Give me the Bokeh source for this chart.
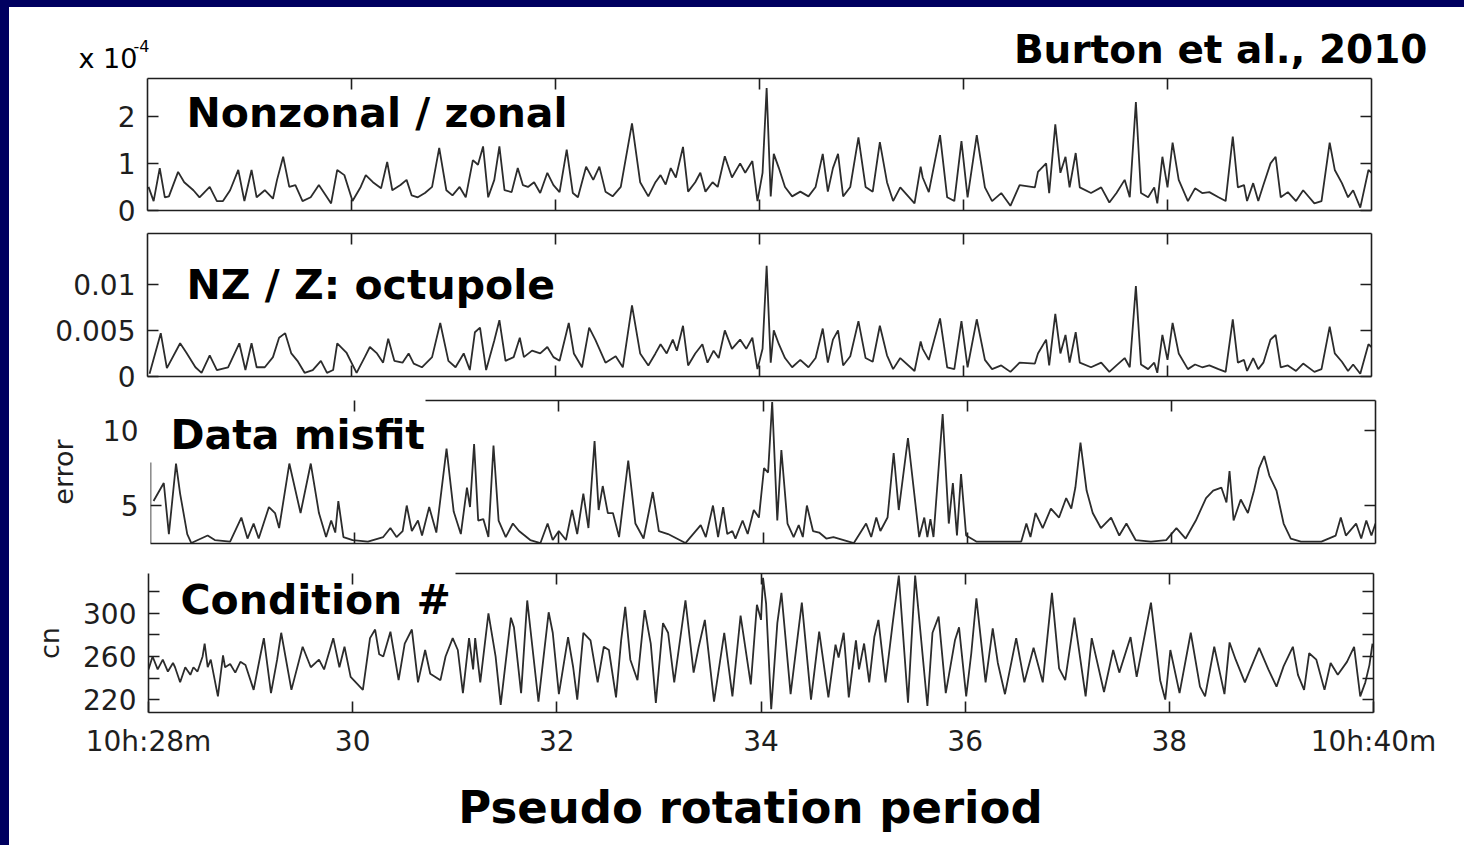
import math
from bokeh.plotting import figure
from bokeh.models import Range1d, LinearAxis, FixedTicker, Label, Div
from bokeh.layouts import row, column
from bokeh.embed import file_html
from bokeh.resources import INLINE

# ---------------- data ----------------
x_ticks_inner = [30, 32, 34, 36, 38]
x_ticks_bottom = [28, 30, 32, 34, 36, 38, 40]
x_tick_labels = {28: "10h:28m", 30: "30", 32: "32", 34: "34", 36: "36", 38: "38", 40: "10h:40m"}

# Panel 1: nonzonal / zonal power ratio (units of 1e-4), time in minutes after 10h
nz_t = [28.01, 28.06, 28.12, 28.17, 28.21, 28.30, 28.36, 28.45, 28.51, 28.61,
        28.68, 28.74, 28.81, 28.89, 28.95, 29.02, 29.07, 29.15, 29.23, 29.27,
        29.33, 29.39, 29.45, 29.52, 29.60, 29.68, 29.76, 29.80, 29.86, 29.93,
        30.01, 30.09, 30.14, 30.21, 30.29, 30.35, 30.40, 30.48, 30.54, 30.59,
        30.65, 30.72, 30.79, 30.86, 30.93, 30.99, 31.06, 31.12, 31.19, 31.24,
        31.29, 31.34, 31.40, 31.45, 31.50, 31.57, 31.63, 31.68, 31.73, 31.79,
        31.85, 31.92, 31.98, 32.04, 32.11, 32.17, 32.22, 32.30, 32.37, 32.43,
        32.49, 32.56, 32.64, 32.75, 32.83, 32.91, 32.98, 33.03, 33.08, 33.13,
        33.18, 33.25, 33.30, 33.37, 33.42, 33.47, 33.54, 33.59, 33.66, 33.73,
        33.81, 33.86, 33.93, 33.98, 34.03, 34.07, 34.11, 34.14, 34.19, 34.25,
        34.32, 34.40, 34.48, 34.55, 34.62, 34.67, 34.72, 34.77, 34.82, 34.89,
        34.97, 35.04, 35.11, 35.18, 35.25, 35.31, 35.38, 35.52, 35.58, 35.60,
        35.66, 35.77, 35.84, 35.91, 35.98, 36.04, 36.13, 36.21, 36.28, 36.37,
        36.46, 36.55, 36.70, 36.73, 36.81, 36.84, 36.90, 36.95, 37.00, 37.04,
        37.10, 37.14, 37.25, 37.35, 37.43, 37.50, 37.58, 37.63, 37.69, 37.74,
        37.81, 37.87, 37.90, 37.95, 38.00, 38.05, 38.11, 38.20, 38.27, 38.34,
        38.41, 38.50, 38.57, 38.64, 38.69, 38.75, 38.78, 38.84, 38.89, 38.94,
        39.01, 39.06, 39.11, 39.18, 39.26, 39.33, 39.44, 39.51, 39.59, 39.64,
        39.71, 39.77, 39.82, 39.89, 39.97, 40.00]
nz_v = [0.5, 0.2, 0.9, 0.28, 0.3, 0.82, 0.6, 0.43, 0.28, 0.5,
        0.2, 0.2, 0.43, 0.86, 0.2, 0.86, 0.28, 0.43, 0.25, 0.65,
        1.14, 0.5, 0.54, 0.2, 0.28, 0.54, 0.28, 0.15, 0.86, 0.75,
        0.2, 0.5, 0.75, 0.6, 0.47, 1.03, 0.43, 0.54, 0.65, 0.32,
        0.28, 0.37, 0.5, 1.33, 0.43, 0.32, 0.5, 0.28, 1.07, 0.97,
        1.36, 0.28, 0.65, 1.36, 0.43, 0.39, 0.9, 0.54, 0.5, 0.6,
        0.37, 0.8, 0.54, 0.39, 1.29, 0.37, 0.28, 0.93, 0.65, 0.93,
        0.4, 0.3, 0.5, 1.85, 0.6, 0.3, 0.6, 0.75, 0.55, 0.9,
        0.7, 1.35, 0.4, 0.6, 0.8, 0.4, 0.6, 0.5, 1.15, 0.7,
        1.0, 0.8, 1.05, 0.2, 0.8, 2.6, 0.3, 1.2, 0.9, 0.5,
        0.3, 0.4, 0.3, 0.5, 1.2, 0.4, 0.9, 1.2, 0.3, 0.5,
        1.55, 0.5, 0.4, 1.45, 0.6, 0.2, 0.49, 0.15, 0.93, 0.7,
        0.39, 1.6, 0.28, 0.2, 1.47, 0.28, 1.6, 0.49, 0.2, 0.37,
        0.1, 0.54, 0.49, 0.82, 1.0, 0.37, 1.83, 0.8, 1.14, 0.49,
        1.22, 0.49, 0.37, 0.49, 0.17, 0.37, 0.65, 0.28, 2.3, 0.37,
        0.28, 0.49, 0.15, 1.14, 0.49, 1.44, 0.65, 0.2, 0.47, 0.37,
        0.39, 0.28, 0.2, 1.57, 0.49, 0.54, 0.2, 0.58, 0.2, 0.54,
        1.0, 1.14, 0.28, 0.39, 0.2, 0.43, 0.15, 0.2, 1.44, 0.86,
        0.58, 0.28, 0.43, 0.06, 0.86, 0.8]

# Panel 2: NZ / Z octupole
oct_t = [28.02, 28.13, 28.19, 28.32, 28.38, 28.47, 28.53, 28.61, 28.68, 28.79,
         28.90, 28.96, 29.02, 29.07, 29.15, 29.23, 29.29, 29.35, 29.41, 29.47,
         29.54, 29.62, 29.70, 29.76, 29.82, 29.86, 29.95, 30.05, 30.13, 30.18,
         30.25, 30.31, 30.36, 30.42, 30.50, 30.56, 30.61, 30.69, 30.79, 30.87,
         30.95, 31.02, 31.10, 31.16, 31.21, 31.26, 31.32, 31.40, 31.45, 31.51,
         31.59, 31.65, 31.69, 31.77, 31.85, 31.92, 31.98, 32.04, 32.13, 32.18,
         32.26, 32.33, 32.39, 32.49, 32.59, 32.66, 32.75, 32.83, 32.91, 32.98,
         33.03, 33.09, 33.15, 33.19, 33.25, 33.30, 33.37, 33.44, 33.49, 33.55,
         33.60, 33.66, 33.73, 33.81, 33.87, 33.93, 33.98, 34.03, 34.07, 34.11,
         34.14, 34.19, 34.25, 34.32, 34.40, 34.48, 34.55, 34.62, 34.67, 34.72,
         34.77, 34.82, 34.89, 34.97, 35.04, 35.11, 35.18, 35.25, 35.31, 35.38,
         35.52, 35.58, 35.60, 35.66, 35.77, 35.84, 35.91, 35.98, 36.04, 36.13,
         36.21, 36.28, 36.37, 36.46, 36.55, 36.70, 36.73, 36.81, 36.84, 36.90,
         36.95, 37.00, 37.04, 37.10, 37.14, 37.25, 37.35, 37.43, 37.50, 37.58,
         37.63, 37.69, 37.74, 37.81, 37.87, 37.90, 37.95, 38.00, 38.05, 38.11,
         38.20, 38.27, 38.34, 38.41, 38.50, 38.57, 38.64, 38.69, 38.75, 38.78,
         38.84, 38.89, 38.94, 39.01, 39.06, 39.11, 39.18, 39.26, 39.33, 39.44,
         39.51, 39.59, 39.64, 39.71, 39.77, 39.82, 39.89, 39.97, 40.00]
oct_v = [0.0003, 0.0047, 0.0009, 0.0036, 0.0026, 0.0010, 0.0004, 0.0023, 0.0007, 0.0010,
         0.0036, 0.0007, 0.0036, 0.0010, 0.0010, 0.0021, 0.0042, 0.0047, 0.0025, 0.0017,
         0.0004, 0.0007, 0.0017, 0.0004, 0.0007, 0.0036, 0.0026, 0.0004, 0.0021, 0.0032,
         0.0025, 0.0015, 0.0041, 0.0017, 0.0015, 0.0025, 0.0014, 0.0010, 0.0021, 0.0058,
         0.0017, 0.0010, 0.0025, 0.0007, 0.0048, 0.0053, 0.0007, 0.0039, 0.0061, 0.0017,
         0.0021, 0.0042, 0.0021, 0.0028, 0.0025, 0.0032, 0.0021, 0.0017, 0.0058, 0.0025,
         0.0010, 0.0053, 0.0040, 0.0015, 0.0022, 0.0010, 0.0077, 0.0025, 0.0012, 0.0025,
         0.0035, 0.0025, 0.0040, 0.0028, 0.0055, 0.0012, 0.0025, 0.0035, 0.0015, 0.0028,
         0.0020, 0.0050, 0.0030, 0.0040, 0.0030, 0.0042, 0.0008, 0.0030, 0.0120, 0.0015,
         0.0050, 0.0035, 0.0020, 0.0010, 0.0018, 0.0010, 0.0020, 0.0052, 0.0015, 0.0040,
         0.0050, 0.0012, 0.0022, 0.0060, 0.0020, 0.0016, 0.0055, 0.0023, 0.0008, 0.0020,
         0.0006, 0.0038, 0.0030, 0.0018, 0.0063, 0.0010, 0.0008, 0.0060, 0.0010, 0.0062,
         0.0018, 0.0008, 0.0012, 0.0005, 0.0015, 0.0014, 0.0025, 0.0040, 0.0012, 0.0068,
         0.0025, 0.0045, 0.0015, 0.0048, 0.0015, 0.0010, 0.0015, 0.0005, 0.0012, 0.0020,
         0.0010, 0.0098, 0.0013, 0.0008, 0.0015, 0.0004, 0.0045, 0.0018, 0.0058, 0.0025,
         0.0008, 0.0013, 0.0010, 0.0012, 0.0008, 0.0005, 0.0062, 0.0015, 0.0018, 0.0006,
         0.0020, 0.0008, 0.0015, 0.0040, 0.0045, 0.0010, 0.0012, 0.0006, 0.0014, 0.0005,
         0.0008, 0.0054, 0.0025, 0.0016, 0.0006, 0.0013, 0.0003, 0.0035, 0.0032]

# Panel 3: data misfit (error)
err_t = [28.03, 28.13, 28.18, 28.25, 28.29, 28.36, 28.40, 28.56, 28.63, 28.78,
         28.89, 28.95, 29.01, 29.06, 29.16, 29.22, 29.26, 29.36, 29.47, 29.57,
         29.65, 29.72, 29.77, 29.81, 29.84, 29.89, 29.98, 30.13, 30.28, 30.35,
         30.41, 30.47, 30.51, 30.56, 30.62, 30.66, 30.73, 30.80, 30.90, 30.97,
         31.04, 31.10, 31.13, 31.17, 31.21, 31.26, 31.31, 31.36, 31.41, 31.48,
         31.55, 31.61, 31.72, 31.82, 31.89, 31.94, 32.00, 32.07, 32.13, 32.18,
         32.24, 32.29, 32.35, 32.39, 32.43, 32.48, 32.53, 32.59, 32.68, 32.75,
         32.83, 32.92, 32.98, 33.07, 33.24, 33.39, 33.44, 33.51, 33.56, 33.61,
         33.65, 33.70, 33.73, 33.80, 33.85, 33.91, 33.96, 34.01, 34.05, 34.09,
         34.14, 34.18, 34.24, 34.30, 34.35, 34.39, 34.43, 34.49, 34.55, 34.62,
         34.69, 34.89, 35.01, 35.06, 35.11, 35.15, 35.22, 35.28, 35.33, 35.42,
         35.53, 35.58, 35.61, 35.64, 35.67, 35.76, 35.82, 35.86, 35.90, 35.94,
         35.99, 36.09, 36.53, 36.58, 36.62, 36.67, 36.74, 36.82, 36.90, 36.97,
         37.02, 37.06, 37.11, 37.17, 37.23, 37.31, 37.41, 37.49, 37.56, 37.65,
         37.80, 37.95, 38.05, 38.14, 38.24, 38.34, 38.41, 38.49, 38.54, 38.57,
         38.61, 38.68, 38.75, 38.81, 38.86, 38.91, 38.96, 39.03, 39.10, 39.17,
         39.27, 39.47, 39.61, 39.66, 39.71, 39.81, 39.86, 39.91, 39.96, 40.00]
err_v = [5.3, 6.5, 3.1, 7.8, 5.8, 3.1, 2.5, 3.0, 2.7, 2.6,
         4.2, 2.8, 3.8, 2.8, 4.9, 4.5, 3.5, 7.8, 4.5, 7.8,
         4.5, 2.9, 4.0, 3.2, 5.3, 2.9, 2.7, 2.6, 2.9, 3.5,
         2.9, 3.3, 5.0, 3.3, 4.0, 3.0, 4.9, 3.2, 8.8, 4.6,
         3.1, 6.2, 4.9, 9.1, 4.0, 4.1, 2.9, 9.0, 4.0, 2.9,
         3.8, 3.3, 2.7, 2.5, 3.8, 2.7, 3.3, 2.7, 4.7, 3.1,
         5.8, 3.5, 9.3, 4.7, 6.3, 4.5, 4.5, 2.9, 8.0, 3.8,
         2.8, 5.9, 3.3, 3.1, 2.5, 3.7, 2.9, 5.0, 2.9, 4.9,
         3.1, 3.3, 2.8, 4.0, 3.1, 4.7, 4.2, 7.5, 7.2, 11.9,
         4.0, 8.7, 3.8, 2.9, 3.7, 2.9, 5.0, 3.3, 3.2, 2.8,
         2.9, 2.5, 3.8, 2.9, 4.2, 3.3, 4.2, 8.5, 4.7, 9.5,
         2.9, 4.2, 2.9, 4.1, 2.9, 11.1, 3.8, 6.5, 3.0, 7.1,
         3.0, 2.6, 2.6, 3.8, 2.9, 4.5, 3.5, 4.8, 4.2, 5.5,
         4.8, 6.2, 9.2, 6.0, 4.5, 3.5, 4.2, 3.0, 3.8, 2.7,
         2.6, 2.7, 3.5, 2.8, 4.0, 5.5, 6.0, 6.2, 5.2, 7.3,
         4.0, 5.4, 4.5, 6.0, 7.5, 8.3, 7.0, 6.0, 3.8, 2.8,
         2.6, 2.6, 3.0, 4.2, 3.0, 3.8, 2.8, 4.0, 3.0, 3.8]

# Panel 4: condition number (cn)
cn_t = [28.00, 28.04, 28.09, 28.14, 28.19, 28.24, 28.26, 28.31, 28.36, 28.41,
        28.44, 28.48, 28.53, 28.55, 28.58, 28.61, 28.68, 28.73, 28.75, 28.80,
        28.85, 28.90, 28.95, 29.03, 29.10, 29.13, 29.20, 29.26, 29.30, 29.40,
        29.51, 29.59, 29.67, 29.72, 29.81, 29.87, 29.92, 29.98, 30.10, 30.17,
        30.22, 30.26, 30.30, 30.37, 30.45, 30.51, 30.58, 30.64, 30.71, 30.76,
        30.86, 30.91, 30.98, 31.03, 31.08, 31.14, 31.18, 31.20, 31.25, 31.33,
        31.40, 31.45, 31.55, 31.58, 31.65, 31.71, 31.82, 31.92, 31.96, 32.02,
        32.11, 32.16, 32.20, 32.26, 32.33, 32.40, 32.46, 32.51, 32.58, 32.63,
        32.67, 32.72, 32.79, 32.86, 32.92, 32.97, 33.04, 33.09, 33.15, 33.26,
        33.34, 33.39, 33.45, 33.54, 33.64, 33.72, 33.80, 33.90, 33.96, 34.00,
        34.02, 34.05, 34.10, 34.16, 34.20, 34.29, 34.40, 34.49, 34.57, 34.66,
        34.73, 34.76, 34.81, 34.86, 34.93, 34.96, 35.01, 35.06, 35.11, 35.15,
        35.22, 35.29, 35.35, 35.44, 35.51, 35.63, 35.68, 35.74, 35.81, 35.90,
        35.94, 36.01, 36.06, 36.11, 36.20, 36.27, 36.32, 36.39, 36.50, 36.58,
        36.67, 36.76, 36.85, 36.92, 36.98, 37.07, 37.18, 37.24, 37.36, 37.45,
        37.51, 37.62, 37.68, 37.82, 37.91, 37.96, 38.01, 38.10, 38.21, 38.30,
        38.35, 38.44, 38.54, 38.59, 38.65, 38.74, 38.88, 38.97, 39.05, 39.12,
        39.21, 39.26, 39.32, 39.37, 39.44, 39.52, 39.58, 39.65, 39.74, 39.81,
        39.87, 39.92, 39.96, 39.99]
cn_v = [248, 260, 248, 257, 246, 254, 250, 236, 250, 243,
        250, 246, 260, 272, 250, 257, 223, 261, 250, 253,
        245, 255, 252, 229, 263, 277, 226, 257, 282, 229,
        269, 250, 257, 248, 277, 250, 269, 241, 229, 277,
        285, 262, 260, 283, 238, 272, 285, 236, 266, 244,
        238, 260, 277, 266, 226, 277, 248, 277, 236, 300,
        260, 215, 296, 287, 226, 312, 218, 301, 282, 225,
        278, 250, 220, 282, 275, 236, 269, 266, 222, 275,
        306, 257, 238, 303, 272, 217, 291, 282, 236, 312,
        245, 269, 294, 218, 282, 223, 298, 234, 308, 294,
        333, 309, 211, 291, 319, 225, 310, 220, 283, 222,
        271, 259, 282, 222, 275, 248, 272, 236, 278, 294,
        236, 291, 335, 217, 335, 214, 282, 297, 226, 275,
        287, 223, 263, 314, 236, 286, 254, 225, 277, 236,
        268, 236, 319, 249, 238, 296, 223, 277, 227, 266,
        245, 278, 241, 310, 238, 220, 266, 226, 282, 232,
        223, 269, 225, 273, 257, 236, 268, 248, 232, 251,
        269, 243, 229, 263, 257, 229, 254, 243, 255, 269,
        223, 236, 252, 272]

# ---------------- styling ----------------
NAVY = "#000060"
FONT = "DejaVu Sans"
INK = "#1e1e1e"
TRACE = "#2c2c2c"
W = 1455


def style_axis(ax, ticks, labels=None, bounds=None):
    ax.ticker = FixedTicker(ticks=ticks)
    if bounds is not None:
        ax.bounds = bounds
    ax.axis_line_color = INK
    ax.axis_line_width = 1.6
    ax.major_tick_line_color = INK
    ax.major_tick_line_width = 1.6
    ax.major_tick_in = 11
    ax.major_tick_out = 0
    ax.minor_tick_in = 0
    ax.minor_tick_out = 0
    ax.minor_tick_line_color = None
    ax.major_label_text_font = FONT
    ax.major_label_text_color = INK
    if labels is None:
        ax.major_label_overrides = {t: "" for t in ticks}
        ax.major_label_text_font_size = "1px"
        ax.major_label_standoff = 0
    else:
        ax.major_label_overrides = labels
        ax.major_label_text_font_size = "28px"
        ax.major_label_standoff = 12


def make_panel(h, bl, br, bt, bb, yr, yticks, ylabels, xlabels=None, top_bounds=None,
               ylabel=None, ylabel_standoff=0):
    p = figure(width=W, height=h, x_range=Range1d(28, 40), y_range=Range1d(*yr),
               output_backend="svg", toolbar_location=None,
               min_border_left=bl, min_border_right=br,
               min_border_top=bt, min_border_bottom=bb)
    p.outline_line_color = None
    p.grid.visible = False
    p.background_fill_color = "white"
    p.border_fill_color = "white"
    bottom = p.below[0]
    left = p.left[0]
    top = LinearAxis()
    right = LinearAxis()
    p.add_layout(top, "above")
    p.add_layout(right, "right")
    style_axis(top, x_ticks_inner, bounds=top_bounds)
    style_axis(right, yticks)
    style_axis(left, yticks, ylabels)
    if xlabels is None:
        style_axis(bottom, x_ticks_inner)
    else:
        style_axis(bottom, x_ticks_bottom, xlabels)
    if ylabel is not None:
        left.axis_label = ylabel
        left.axis_label_text_font = FONT
        left.axis_label_text_font_size = "27px"
        left.axis_label_text_font_style = "normal"
        left.axis_label_text_color = INK
        left.axis_label_standoff = ylabel_standoff
    return p, left


def add_text(p, x, y, text, size, bold=False, align="left", baseline="alphabetic"):
    p.add_layout(Label(x=x, y=y, text=text, text_font=FONT, text_font_size=size,
                       text_font_style="bold" if bold else "normal",
                       text_align=align, text_baseline=baseline, text_color="black"))


def make_band(h):
    b = figure(width=W, height=h, x_range=Range1d(0, W), y_range=Range1d(0, h),
               output_backend="svg", toolbar_location=None, min_border=0,
               min_border_left=0, min_border_right=0, min_border_top=0, min_border_bottom=0,
               x_axis_location=None, y_axis_location=None)
    b.outline_line_color = None
    b.grid.visible = False
    b.background_fill_color = "white"
    b.border_fill_color = "white"
    return b


# Header band above panel 1 (page y 7..76)
head = make_band(69)
add_text(head, 69, 18, "x 10", "27px")
add_text(head, 124, 31, "-4", "16px")
add_text(head, 1418, 27, "Burton et al., 2010", "39px", bold=True, align="right")

# Panel 1 (page y 76..228)
p1, _ = make_panel(152, 138, 93, 2, 18, (0, 2.8), [0, 1, 2], {0: "0", 1: "1", 2: "2"})
p1.line(nz_t, nz_v, line_color=TRACE, line_width=1.8)
add_text(p1, 28.382, 2.058, "Nonzonal / zonal", "41px", bold=True)

# Panel 2 (page y 228..394)
p2, _ = make_panel(166, 138, 93, 5, 18, (0, 0.0155), [0, 0.005, 0.01],
                   {0: "0", 0.005: "0.005", 0.01: "0.01"})
p2.line(oct_t, oct_v, line_color=TRACE, line_width=1.8)
add_text(p2, 28.382, 0.00997, "NZ / Z: octupole", "41px", bold=True)

# Panel 3 (page y 394..556)
p3, p3_left = make_panel(162, 141, 89, 6, 13, (2.47, 12.0), [5, 10], {5: "5", 10: "10"},
                         top_bounds=(30.69, 40), ylabel="error", ylabel_standoff=21)
# the label box in the reference hides the upper part of the left frame line
p3_left.axis_line_color = None
p3_left.major_tick_in = 0
p3_edge = LinearAxis(fixed_location=28)
style_axis(p3_edge, [5], bounds=(2.47, 7.87))
p3.add_layout(p3_edge, "left")
p3.line(err_t, err_v, line_color=TRACE, line_width=1.8)
add_text(p3, 28.196, 9.733, "Data misfit", "41px", bold=True)

# Panel 4 (page y 556..760)
p4, _ = make_panel(204, 139, 91, 17, 47, (208, 337), [220, 240, 260, 280, 300, 320],
                   {220: "220", 240: "", 260: "260", 280: "", 300: "300", 320: ""},
                   xlabels=x_tick_labels, top_bounds=(31.01, 40), ylabel="cn", ylabel_standoff=15)
p4.line(cn_t, cn_v, line_color=TRACE, line_width=1.8)
add_text(p4, 28.313, 312.0, "Condition #", "41px", bold=True)

# Footer band with the x title (page y 760..845)
foot = make_band(85)
add_text(foot, 741, 38, "Pseudo rotation period", "45px", bold=True, align="center")

left_strip = Div(text="", width=9, height=845, margin=0, styles={"background-color": NAVY})
top_strip = Div(text="", width=W, height=7, margin=0, styles={"background-color": NAVY})

stack = column(top_strip, row(head), row(p1), row(p2), row(p3), row(p4), row(foot), spacing=0)
layout = row(left_strip, stack, spacing=0)

open("out.html", "w").write(file_html(layout, INLINE))
